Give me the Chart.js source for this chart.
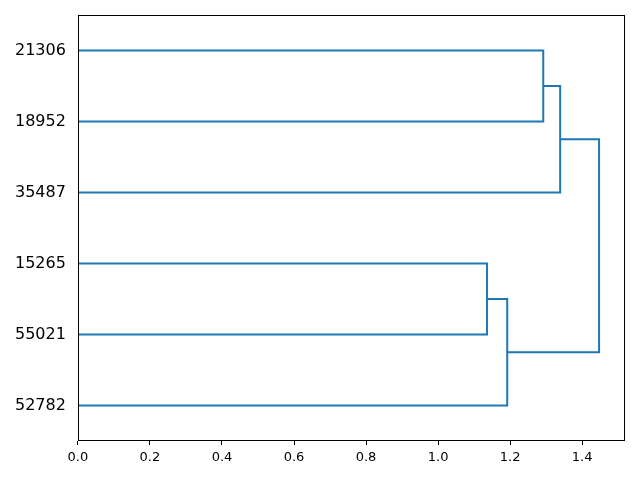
<!DOCTYPE html>
<html>
<head>
<meta charset="utf-8">
<script src="https://cdn.jsdelivr.net/npm/chart.js@4"></script>
<style>
  html, body { margin: 0; padding: 0; background: #fff; }
  #wrap { width: 640px; height: 480px; }
</style>
</head>
<body>
<div id="wrap"><canvas id="dendro"></canvas></div>
<script>
// leaves bottom to top, placed at 5, 15, 25, ... like scipy
const leafLabels = ["52782", "55021", "15265", "35487", "18952", "21306"];
const leafPos = [5, 15, 25, 35, 45, 55];
// link coordinates (icoord = leaf axis, dcoord = distance)
const icoord = [
  [15, 15, 25, 25],
  [5, 5, 20, 20],
  [45, 45, 55, 55],
  [35, 35, 50, 50],
  [12.5, 12.5, 42.5, 42.5],
];
const dcoord = [
  [0, 1.136, 1.136, 0],
  [0, 1.192, 1.192, 1.136],
  [0, 1.292, 1.292, 0],
  [0, 1.339, 1.339, 1.292],
  [1.192, 1.447, 1.447, 1.339],
];
const xTicks = [0, 0.2, 0.4, 0.6, 0.8, 1.0, 1.2, 1.4];

const datasets = icoord.map((ic, i) => ({
  data: ic.map((y, j) => ({ x: dcoord[i][j], y: y })),
  showLine: true,
  borderColor: "#1f77b4",
  borderWidth: 2,
  pointRadius: 0,
  fill: false,
}));

const frame = {
  id: "frame",
  afterDraw(chart) {
    const a = chart.chartArea, ctx = chart.ctx;
    ctx.save();
    ctx.strokeStyle = "#000";
    ctx.lineWidth = 1;
    ctx.strokeRect(Math.round(a.left) + 0.5, Math.round(a.top) + 0.5,
      Math.round(a.right - a.left) - 1, Math.round(a.bottom - a.top) - 1);
    ctx.restore();
  }
};

new Chart(document.getElementById("dendro"), {
  type: "scatter",
  data: { datasets },
  options: {
    responsive: true,
    maintainAspectRatio: false,
    animation: false,
    layout: { padding: { top: 15, right: 15, left: 3, bottom: 0 } },
    plugins: { legend: { display: false }, tooltip: { enabled: false } },
    scales: {
      x: {
        type: "linear",
        min: 0,
        max: 1.519,
        afterFit: (s) => { s.height = 39; },
        afterBuildTicks: (s) => { s.ticks = xTicks.map(v => ({ value: v })); },
        grid: { drawOnChartArea: false, drawTicks: true, tickLength: 4, color: "#000" },
        border: { display: false },
        ticks: {
          color: "#000",
          font: { family: "DejaVu Sans", size: 13 },
          padding: 5,
          maxRotation: 0,
          callback: (v) => v.toFixed(1),
        },
      },
      y: {
        type: "linear",
        min: 0,
        max: 60,
        afterFit: (s) => { s.paddingTop = 0; s.paddingBottom = 0; },
        afterBuildTicks: (s) => { s.ticks = leafPos.map(v => ({ value: v })); },
        grid: { display: true, drawOnChartArea: false, drawTicks: false, color: "#000" },
        border: { display: false },
        ticks: {
          color: "#000",
          font: { family: "DejaVu Sans", size: 16 },
          padding: 12,
          callback: (v) => leafLabels[leafPos.indexOf(v)],
        },
      },
    },
  },
  plugins: [frame],
});
</script>
</body>
</html>
